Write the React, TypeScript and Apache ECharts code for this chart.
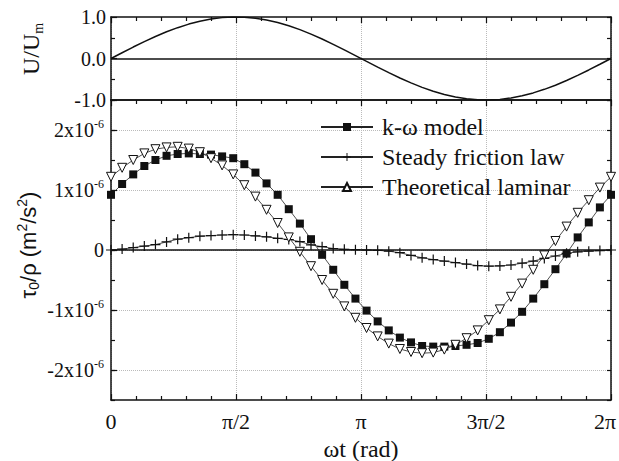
import React, { useEffect, useRef } from 'react';
import * as echarts from 'echarts';

// ωt in degrees (0 … 2π sampled every 8°)
const wtDeg = [0, 8, 16, 24, 32, 40, 48, 56, 64, 72, 80, 88, 96, 104, 112, 120, 128, 136, 144, 152, 160, 168, 176, 184, 192, 200, 208, 216, 224, 232, 240, 248, 256, 264, 272, 280, 288, 296, 304, 312, 320, 328, 336, 344, 352, 360];

// U/Um (top panel)
const velocityRatio = [0, 0.139, 0.276, 0.407, 0.53, 0.643, 0.743, 0.829, 0.899, 0.951, 0.985, 0.999, 0.995, 0.97, 0.927, 0.866, 0.788, 0.695, 0.588, 0.469, 0.342, 0.208, 0.07, -0.07, -0.208, -0.342, -0.469, -0.588, -0.695, -0.788, -0.866, -0.927, -0.97, -0.995, -0.999, -0.985, -0.951, -0.899, -0.829, -0.743, -0.643, -0.53, -0.407, -0.276, -0.139, 0];

// τ0/ρ in units of 1e-6 m²/s²
const kOmega = [0.92, 1.1, 1.26, 1.4, 1.5, 1.57, 1.6, 1.61, 1.6, 1.59, 1.56, 1.53, 1.43, 1.29, 1.11, 0.92, 0.68, 0.44, 0.18, -0.08, -0.33, -0.58, -0.81, -1.01, -1.19, -1.34, -1.46, -1.54, -1.6, -1.61, -1.61, -1.6, -1.58, -1.55, -1.48, -1.37, -1.21, -1.03, -0.81, -0.57, -0.32, -0.06, 0.21, 0.46, 0.71, 0.92];
const steadyFriction = [0, 0.015, 0.04, 0.065, 0.09, 0.135, 0.18, 0.205, 0.23, 0.24, 0.25, 0.255, 0.25, 0.235, 0.22, 0.195, 0.175, 0.14, 0.085, 0.055, 0.025, 0.012, 0.005, 0, -0.005, -0.02, -0.045, -0.09, -0.13, -0.16, -0.185, -0.21, -0.235, -0.26, -0.27, -0.265, -0.25, -0.22, -0.185, -0.14, -0.1, -0.055, -0.03, -0.02, -0.01, 0];
const theoreticalLaminar = [1.22, 1.37, 1.5, 1.61, 1.68, 1.71, 1.72, 1.69, 1.63, 1.53, 1.41, 1.26, 1.08, 0.89, 0.67, 0.45, 0.21, -0.03, -0.27, -0.5, -0.73, -0.94, -1.13, -1.3, -1.44, -1.56, -1.65, -1.7, -1.72, -1.71, -1.66, -1.58, -1.47, -1.34, -1.17, -0.99, -0.78, -0.56, -0.33, -0.09, 0.15, 0.39, 0.62, 0.83, 1.04, 1.22];

const xTickLabels: Record<number, string> = { 0: '0', 90: 'π/2', 180: 'π', 270: '3π/2', 360: '2π' };
const seriesNames = ['k-ω model', 'Steady friction law', 'Theoretical laminar'];

const SERIF = 'Liberation Serif';
const SANS = 'Liberation Sans';
const PLUS = 'path://M4.4,0H5.6V4.4H10V5.6H5.6V10H4.4V5.6H0V4.4H4.4Z';

const pair = (ys: number[]) => wtDeg.map((x, i) => [x, ys[i]]);

const axisLine = { show: true, onZero: false, lineStyle: { color: '#111', width: 1.5 } };
const dotted = { show: true, lineStyle: { color: '#bbb', type: 'dotted', width: 1 } };
const tickStyle = { color: '#111', width: 1.2 };

export default function App() {
  const ref = useRef<HTMLDivElement>(null);
  useEffect(() => {
    const chart = echarts.init(ref.current!, undefined, { renderer: 'svg' });
    const xBase = (grid: number, pos: 'top' | 'bottom', extra: any) => ({
      type: 'value', gridIndex: grid, position: pos, min: 0, max: 360, interval: 90,
      axisLine,
      axisTick: { show: true, inside: true, length: 6, lineStyle: tickStyle },
      minorTick: { show: true, splitNumber: 5, length: 4, lineStyle: tickStyle },
      axisLabel: { show: false },
      splitLine: { show: false },
      ...extra,
    });
    const yBase = (grid: number, pos: 'left' | 'right', min: number, max: number, interval: number, len: number, extra: any) => ({
      type: 'value', gridIndex: grid, position: pos, min, max, interval,
      axisLine,
      axisTick: { show: true, inside: true, length: len, lineStyle: tickStyle },
      axisLabel: { show: false },
      splitLine: { show: false },
      ...extra,
    });
    const zeroLine = {
      silent: true, symbol: 'none', label: { show: false },
      lineStyle: { color: '#111', width: 1.5, type: 'solid' },
      data: [{ yAxis: 0 }],
    };
    chart.setOption({
      animation: false,
      textStyle: { fontFamily: SERIF },
      grid: [
        { left: 111, right: 8, top: 17, height: 83, outerBoundsMode: 'none', containLabel: false },
        { left: 111, right: 8, top: 100, height: 300, outerBoundsMode: 'none', containLabel: false },
        { left: 111, right: 8, top: 130, height: 240, outerBoundsMode: 'none', containLabel: false },
      ],
      xAxis: [
        xBase(0, 'bottom', { axisTick: { show: false }, minorTick: { show: false }, splitLine: dotted }),
        xBase(0, 'top', {}),
        xBase(1, 'bottom', {
          splitLine: dotted,
          axisLabel: {
            show: true, margin: 10, color: '#111', fontFamily: SERIF, fontSize: 22,
            formatter: (v: number) => (v === 360 ? `{r|${xTickLabels[v]}}` : `{t|${xTickLabels[v] ?? ''}}`),
            rich: {
              t: { fontFamily: SERIF, fontSize: 22, color: '#111' },
              r: { fontFamily: SERIF, fontSize: 22, color: '#111', padding: [0, 12, 0, 0] },
            },
          },
          name: 'ωt (rad)', nameLocation: 'middle', nameGap: 37,
          nameTextStyle: { fontFamily: SERIF, fontSize: 24, color: '#111' },
        }),
        xBase(1, 'top', {}),
        { type: 'value', gridIndex: 2, min: 0, max: 360, show: false },
      ],
      yAxis: [
        yBase(0, 'left', -1, 1, 1, 6, {
          minorTick: { show: true, splitNumber: 2, length: 4, lineStyle: tickStyle },
          axisLabel: { show: true, margin: 5, color: '#111', fontFamily: SERIF, fontSize: 20, formatter: (v: number) => v.toFixed(1) },
        }),
        yBase(0, 'right', -1, 1, 0.5, 4, {}),
        yBase(1, 'left', -2.5, 2.5, 0.5, 4, {}),
        yBase(1, 'right', -2.5, 2.5, 0.5, 4, {}),
        {
          type: 'value', gridIndex: 2, position: 'left', min: -2, max: 2, interval: 1,
          axisLine: { show: false, onZero: false },
          axisTick: { show: true, inside: true, length: 6, lineStyle: tickStyle },
          axisLabel: {
            show: true, margin: 7, color: '#111', fontFamily: SERIF, fontSize: 20,
            formatter: (v: number) => (v === 0 ? '{b|0}' : `{b|${v}x10}{s|-6}`),
            rich: {
              b: { fontFamily: SERIF, fontSize: 20, lineHeight: 24, color: '#111' },
              s: { fontFamily: SERIF, fontSize: 12, lineHeight: 12, verticalAlign: 'top', color: '#111' },
            },
          },
          splitLine: dotted,
        },
      ],
      legend: {
        orient: 'vertical', left: 320, top: 115, padding: 0, itemWidth: 52, itemHeight: 10, itemGap: 6,
        symbolRotate: 0,
        textStyle: { fontFamily: SERIF, fontSize: 24, color: '#111', padding: [0, 0, 0, 4] },
        data: seriesNames,
      },
      graphic: [
        {
          type: 'text', x: 31, y: 49, rotation: Math.PI / 2,
          style: {
            text: '{m|U/U}{sub|m}', align: 'center', verticalAlign: 'middle', fill: '#111',
            fontFamily: SERIF, fontSize: 24,
            rich: {
              m: { fontFamily: SERIF, fontSize: 24, lineHeight: 28, fill: '#111' },
              sub: { fontFamily: SERIF, fontSize: 14, lineHeight: 14, verticalAlign: 'bottom', fill: '#111' },
            },
          },
        },
        {
          type: 'text', x: 28, y: 245, rotation: Math.PI / 2,
          style: {
            text: '{m|τ}{sub|0}{m|/ρ (m}{sup|2}{m|/s}{sup|2}{m|)}', align: 'center', verticalAlign: 'middle', fill: '#111',
            fontFamily: SANS, fontSize: 22,
            rich: {
              m: { fontFamily: SANS, fontSize: 22, lineHeight: 26, fill: '#111' },
              sub: { fontFamily: SANS, fontSize: 14, lineHeight: 14, verticalAlign: 'bottom', fill: '#111' },
              sup: { fontFamily: SANS, fontSize: 14, lineHeight: 14, verticalAlign: 'top', fill: '#111' },
            },
          },
        },
      ],
      series: [
        {
          type: 'line', name: 'U/Um', xAxisIndex: 0, yAxisIndex: 0, data: pair(velocityRatio),
          showSymbol: false, symbol: 'none', silent: true,
          lineStyle: { color: '#111', width: 1.5 },
          markLine: zeroLine,
        },
        {
          type: 'line', name: seriesNames[0], xAxisIndex: 2, yAxisIndex: 2, data: pair(kOmega),
          symbol: 'rect', symbolSize: 8, silent: true,
          itemStyle: { color: '#111', borderColor: '#111', borderWidth: 0 },
          lineStyle: { color: '#222', width: 0.8 },
          markLine: zeroLine,
        },
        {
          type: 'line', name: seriesNames[1], xAxisIndex: 2, yAxisIndex: 2, data: pair(steadyFriction),
          symbol: PLUS, symbolSize: 10, silent: true,
          itemStyle: { color: '#111', borderWidth: 0 },
          lineStyle: { color: '#222', width: 0.8 },
        },
        {
          type: 'line', name: seriesNames[2], xAxisIndex: 2, yAxisIndex: 2, data: pair(theoreticalLaminar),
          symbol: 'triangle', symbolRotate: 180, symbolSize: 9, silent: true,
          itemStyle: { color: '#fff', borderColor: '#111', borderWidth: 1 },
          lineStyle: { color: '#222', width: 0.8 },
        },
      ],
    });
    return () => chart.dispose();
  }, []);
  return <div ref={ref} style={{ position: 'absolute', left: 0, top: 0, width: 619, height: 461 }} />;
}
